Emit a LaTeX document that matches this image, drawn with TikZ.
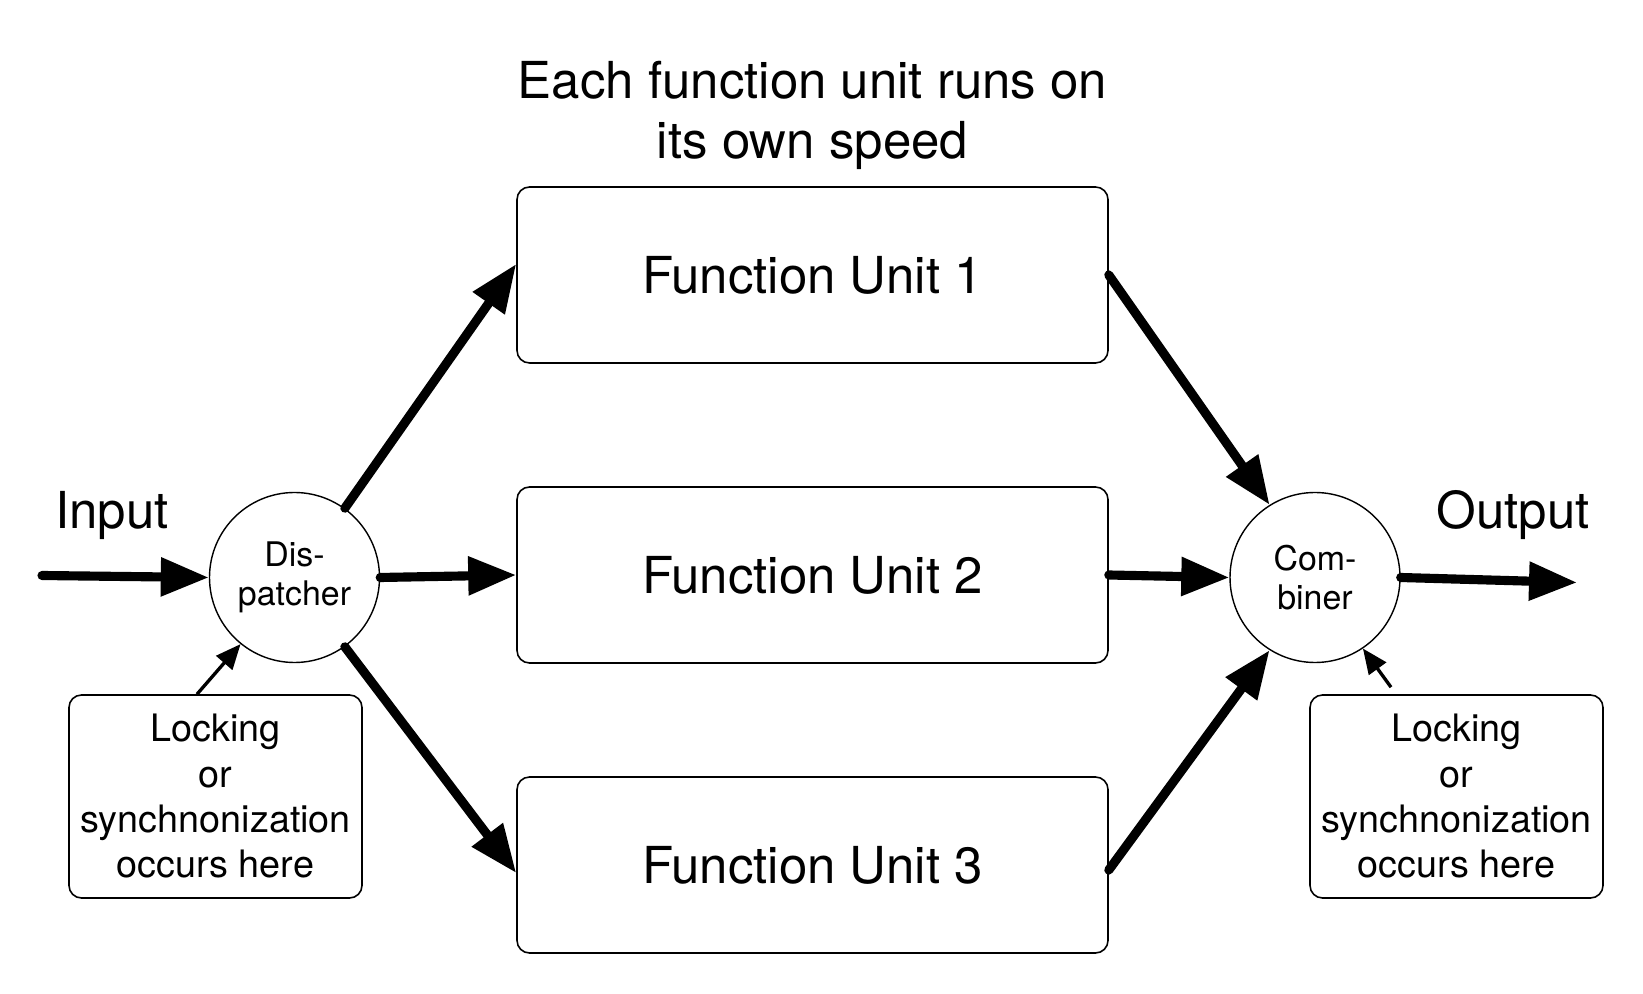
\documentclass[tikz,border=0pt]{standalone}
\usepackage{fontspec}
\setmainfont{TeX Gyre Heros}
\usetikzlibrary{arrows.meta}

\begin{document}
\begin{tikzpicture}[
  unit/.style={draw,line width=0.9pt,rounded corners=0.25cm,minimum width=11.82cm,minimum height=3.52cm,font=\fontsize{29}{34}\selectfont},
  joint/.style={draw,circle,line width=0.8pt,minimum size=3.4cm,inner sep=0pt,align=center,font=\fontsize{19.3}{22}\selectfont},
  lock/.style={draw,line width=0.9pt,rounded corners=0.25cm,minimum width=5.86cm,minimum height=4.06cm,align=center,font=\fontsize{21.5}{25.8}\selectfont},
  label/.style={font=\fontsize{29}{34}\selectfont,align=center},
  flow/.style={line width=5.2pt,line cap=round,-{Triangle[length=0.96cm,width=0.74cm]}},
  hint/.style={line width=1.9pt,-{Triangle[length=0.5cm,width=0.42cm]}}]
  \useasboundingbox (0,0) rectangle (32.86,19.86);
  \node[label] (title) at (16.25,17.55) {Each function unit runs on\\its own speed};
  \node[unit] (fu1) at (16.25,14.36) {Function Unit 1};
  \node[unit] (fu2) at (16.25,8.36) {Function Unit 2};
  \node[unit] (fu3) at (16.25,2.56) {Function Unit 3};
  \node[joint] (disp) at (5.89,8.31) {Dis-\\patcher};
  \node[joint] (comb) at (26.30,8.31) {Com-\\biner};
  \node[lock] (lockL) at (4.31,3.93) {Locking\\or\\synchnonization\\occurs here};
  \node[lock] (lockR) at (29.13,3.93) {Locking\\or\\synchnonization\\occurs here};
  \node[label] (in) at (2.24,9.56) {Input};
  \node[label] (out) at (30.26,9.56) {Output};
  \coordinate (src) at (0.84,8.35);
  \coordinate (dst) at (31.54,8.21);
  \draw[flow] (src) -- (disp.west);
  \draw[flow] (disp.54) -- ([yshift=0.22cm]fu1.west);
  \draw[flow] (disp.east) -- (fu2.west);
  \draw[flow] (disp.-54) -- ([yshift=-0.16cm]fu3.west);
  \draw[flow] (fu1.east) -- (comb.122);
  \draw[flow] (fu2.east) -- (comb.west);
  \draw[flow] ([yshift=-0.1cm]fu3.east) -- (comb.238);
  \draw[flow] (comb.east) -- (dst);
  \draw[hint] ([xshift=-0.37cm]lockL.north) -- (disp.231);
  \draw[hint] ([xshift=-1.31cm,yshift=0.14cm]lockR.north) -- (comb.-56);
\end{tikzpicture}
\end{document}
